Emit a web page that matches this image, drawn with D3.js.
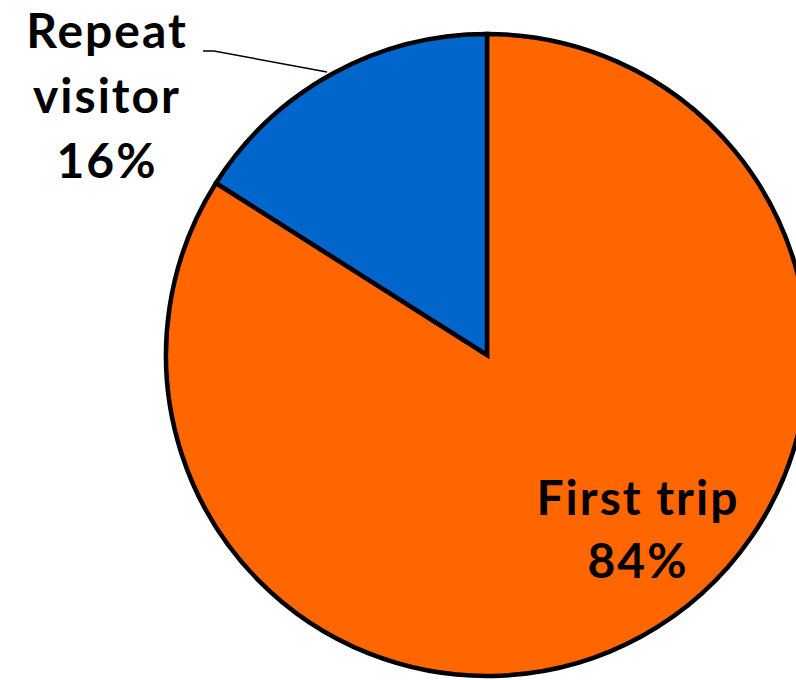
<!DOCTYPE html>
<html><head><meta charset="utf-8">
<script src="https://d3js.org/d3.v7.min.js"></script>
<style>html,body{margin:0;padding:0;background:#fff;overflow:hidden}</style>
</head><body>
<svg id="chart" width="796" height="680"></svg>
<script>
const categories = ["First trip", "Repeat visitor"];
const values = [84, 16];
const colors = ["#FF6600", "#0066CC"];

const svg = d3.select("#chart");
const cx = 487, cy = 355, r = 321;
const g = svg.append("g").attr("transform", `translate(${cx},${cy})`);
const pie = d3.pie().sort(null).value(d => d)(values);
const arc = d3.arc().innerRadius(0).outerRadius(r);
g.selectAll("path").data(pie).enter().append("path")
  .attr("d", arc).attr("fill", (d, i) => colors[i])
  .attr("stroke", "#000").attr("stroke-width", 4.5).attr("stroke-linejoin", "miter");

const font = "Lato, 'DejaVu Sans', sans-serif";
svg.append("path").attr("d", "M203,51 L214,51 L327,72")
  .attr("fill", "none").attr("stroke", "#000").attr("stroke-width", 1.5);

function label(x, ys, lines) {
  lines.forEach((t, i) => {
    svg.append("text").attr("x", x).attr("y", ys[i]).attr("text-anchor", "middle")
      .attr("font-family", font).attr("font-weight", "bold").attr("font-size", 48)
      .attr("letter-spacing", 2)
      .attr("fill", "#000").text(t);
  });
}
label(107, [48, 113, 178], ["Repeat", "visitor", values[1] + "%"]);
label(638, [515, 578], [categories[0], values[0] + "%"]);
</script>
</body></html>
